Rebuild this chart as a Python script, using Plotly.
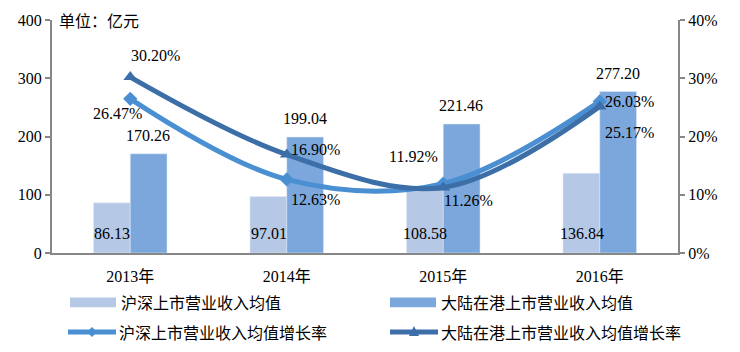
import plotly.graph_objects as go

categories = ["2013年", "2014年", "2015年", "2016年"]
hs_rev = [86.13, 97.01, 108.58, 136.84]
hk_rev = [170.26, 199.04, 221.46, 277.20]
hs_growth = [26.47, 12.63, 11.92, 26.03]
hk_growth = [30.20, 16.90, 11.26, 25.17]
names = ["沪深上市营业收入均值", "大陆在港上市营业收入均值",
         "沪深上市营业收入均值增长率", "大陆在港上市营业收入均值增长率"]

C_LIGHT = "#b5c8e6"
C_BAR = "#7ba7dc"
C_L1 = "#4a8fd2"
C_L2 = "#3c6ea7"
AX = "#878787"
FONT = "Liberation Serif, Noto Sans CJK SC"
CJK = "Noto Sans CJK SC, Liberation Serif"

fig = go.Figure()
fig.add_bar(x=categories, y=hs_rev, name=names[0], marker_color=C_LIGHT, showlegend=False)
fig.add_bar(x=categories, y=hk_rev, name=names[1], marker_color=C_BAR, showlegend=False)
fig.add_scatter(x=categories, y=[v / 100 for v in hs_growth], yaxis="y2", name=names[2],
                mode="lines+markers", line=dict(color=C_L1, width=5, shape="spline", smoothing=1.0),
                marker=dict(symbol="diamond", size=11, color=C_L1), showlegend=False)
fig.add_scatter(x=categories, y=[v / 100 for v in hk_growth], yaxis="y2", name=names[3],
                mode="lines+markers", line=dict(color=C_L2, width=5, shape="spline", smoothing=1.0),
                marker=dict(symbol="triangle-up", size=12, color=C_L2), showlegend=False)

ann = []
# bar labels
for c, v in zip(categories, hs_rev):
    ann.append(dict(x=c, y=0, text=f"{v:.2f}", showarrow=False, xshift=-18, yshift=9,
                    yanchor="bottom", font=dict(family=FONT, size=16, color="#000")))
for c, v in zip(categories, hk_rev):
    ann.append(dict(x=c, y=v, text=f"{v:.2f}", showarrow=False, xshift=18, yshift=8,
                    yanchor="bottom", font=dict(family=FONT, size=16, color="#000")))
# line labels
hs_off = [(-13, -15), (29, -20), (-30, 27), (30, 0)]
hk_off = [(25, 22), (29, 5), (25, -13), (30, -26)]
for c, v, (dx, dy) in zip(categories, hs_growth, hs_off):
    ann.append(dict(x=c, y=v / 100, yref="y2", text=f"{v:.2f}%", showarrow=False,
                    xshift=dx, yshift=dy, font=dict(family=FONT, size=16, color="#000")))
for c, v, (dx, dy) in zip(categories, hk_growth, hk_off):
    ann.append(dict(x=c, y=v / 100, yref="y2", text=f"{v:.2f}%", showarrow=False,
                    xshift=dx, yshift=dy, font=dict(family=FONT, size=16, color="#000")))
# unit label
ann.append(dict(x=0.008, y=1.0, xref="paper", yref="paper", text="单位：亿元", showarrow=False,
                xanchor="left", yanchor="middle", font=dict(family=CJK, size=16, color="#000")))

# custom legend
W, H = 626.0, 236.0
def px(x):
    return (x - 52) / W
def py(y):
    return (253 - y) / H

shapes = []
leg = [
    (names[0], 70, 303, "bar", C_LIGHT, None),
    (names[1], 390, 303, "bar", C_BAR, None),
    (names[2], 68, 333, "line", C_L1, "diamond"),
    (names[3], 390, 333, "line", C_L2, "triangle-up"),
]
for name, x0, y0, kind, col, sym in leg:
    if kind == "bar":
        shapes.append(dict(type="rect", xref="paper", yref="paper", x0=px(x0), x1=px(x0 + 46),
                           y0=py(y0 + 5), y1=py(y0 - 5), fillcolor=col, line=dict(width=0)))
    else:
        shapes.append(dict(type="line", xref="paper", yref="paper", x0=px(x0), x1=px(x0 + 48),
                           y0=py(y0), y1=py(y0), line=dict(color=col, width=5)))
    ann.append(dict(x=px(x0 + 49), y=py(y0), xref="paper", yref="paper", text=name, showarrow=False,
                    xanchor="left", yanchor="middle", font=dict(family=CJK, size=16, color="#000")))

fig.update_layout(
    width=740, height=352,
    margin=dict(l=52, r=62, t=17, b=99),
    plot_bgcolor="white", paper_bgcolor="white",
    barmode="group", bargap=0.53, bargroupgap=0,
    annotations=ann, shapes=shapes,
    xaxis=dict(range=[-0.5, 3.5], showline=True, linecolor=AX, linewidth=2, ticks="",
               ticklabelstandoff=8,
               tickfont=dict(family=FONT, size=16, color="#000"), showgrid=False, zeroline=False),
    yaxis=dict(range=[0, 400], dtick=100, showline=True, linecolor=AX, linewidth=2, ticks="outside",
               ticklen=5, tickcolor=AX, tickwidth=2, showgrid=False, zeroline=False,
               tickfont=dict(family=FONT, size=16, color="#000")),
    yaxis2=dict(range=[0, 0.4], dtick=0.1, tickformat=".0%", overlaying="y", side="right",
                showline=True, linecolor=AX, linewidth=2, ticks="outside", ticklen=5, tickcolor=AX,
                tickwidth=2, showgrid=False, zeroline=False,
                tickfont=dict(family=FONT, size=16, color="#000")),
    showlegend=False,
)

for name, x0, y0, kind, col, sym in leg:
    if sym:
        cx = x0 + 24
        if sym == "diamond":
            path = f"M {px(cx-5)} {py(y0)} L {px(cx)} {py(y0-5)} L {px(cx+5)} {py(y0)} L {px(cx)} {py(y0+5)} Z"
        else:
            path = f"M {px(cx-5)} {py(y0+4)} L {px(cx)} {py(y0-6)} L {px(cx+5)} {py(y0+4)} Z"
        fig.add_shape(type="path", xref="paper", yref="paper", path=path, fillcolor=col, line=dict(width=0))

fig.write_html("out.html")
